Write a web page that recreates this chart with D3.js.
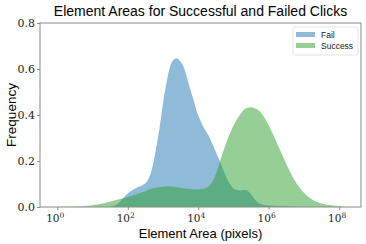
<!DOCTYPE html>
<html>
<head>
<meta charset="utf-8">
<script src="https://cdn.jsdelivr.net/npm/d3@7"></script>
<style>
  body { margin: 0; background: #fff; }
  svg { display: block; }
</style>
</head>
<body>
<svg id="chart" width="366" height="244"></svg>
<script>
// values: exponent of element area (10^e) and frequency
var failExp = [1.5, 1.7, 1.85, 2.05, 2.3, 2.45, 2.58, 2.68, 2.8, 2.9, 3.0, 3.1, 3.2, 3.3, 3.39, 3.48, 3.57, 3.67, 3.76, 3.86, 3.95, 4.05, 4.14, 4.24, 4.33, 4.43, 4.52, 4.62, 4.71, 4.81, 4.9, 4.99, 5.1, 5.18, 5.33, 5.47, 5.56, 5.66, 5.84, 6.1, 6.5, 6.9];
var failFreq = [0.0, 0.012, 0.035, 0.065, 0.087, 0.098, 0.12, 0.16, 0.25, 0.34, 0.45, 0.54, 0.61, 0.64, 0.647, 0.636, 0.615, 0.57, 0.52, 0.47, 0.42, 0.38, 0.35, 0.325, 0.30, 0.265, 0.232, 0.198, 0.162, 0.126, 0.10, 0.082, 0.074, 0.072, 0.074, 0.061, 0.042, 0.024, 0.01, 0.005, 0.003, 0.0];

var successExp = [-0.05, 0.5, 0.93, 1.41, 1.89, 2.36, 2.65, 2.93, 3.2, 3.6, 3.9, 4.1, 4.33, 4.47, 4.62, 4.81, 4.99, 5.18, 5.37, 5.51, 5.62, 5.75, 5.94, 6.13, 6.32, 6.51, 6.70, 6.89, 7.17, 7.45, 7.83, 8.2];
var successFreq = [0.0, 0.002, 0.007, 0.02, 0.039, 0.061, 0.078, 0.087, 0.089, 0.08, 0.076, 0.078, 0.095, 0.13, 0.2, 0.285, 0.35, 0.40, 0.43, 0.434, 0.428, 0.415, 0.372, 0.314, 0.249, 0.184, 0.126, 0.082, 0.039, 0.017, 0.006, 0.0];

var seriesNames = ["Fail", "Success"];
var seriesColors = ["#1f77b4", "#2ca02c"];
var xTickExp = [0, 2, 4, 6, 8];
var yTicks = [0.0, 0.2, 0.4, 0.6, 0.8];

var svg = d3.select("#chart"),
    margin = {top: 23, right: 5, bottom: 37, left: 40},
    width = +svg.attr("width") - margin.left - margin.right,
    height = +svg.attr("height") - margin.top - margin.bottom,
    g = svg.append("g").attr("transform", "translate(" + margin.left + "," + margin.top + ")");

var x = d3.scaleLog()
    .domain([Math.pow(10, -0.49), Math.pow(10, 8.62)])
    .range([0, width]);

var y = d3.scaleLinear()
    .domain([0, 0.8])
    .range([height, 0]);

function toPoints(exps, freqs) {
  return exps.map(function(e, i) { return {area: Math.pow(10, e), freq: freqs[i]}; });
}
var series = [toPoints(failExp, failFreq), toPoints(successExp, successFreq)];

var area = d3.area()
    .curve(d3.curveMonotoneX)
    .x(function(d) { return x(d.area); })
    .y0(y(0))
    .y1(function(d) { return y(d.freq); });

// filled densities, fail first so success sits on top
g.selectAll("path.kde")
  .data(series)
  .enter().append("path")
    .attr("class", "kde")
    .attr("d", area)
    .attr("fill", function(d, i) { return seriesColors[i]; })
    .attr("fill-opacity", 0.5);

// frame
g.append("rect")
    .attr("width", width)
    .attr("height", height)
    .attr("fill", "none")
    .attr("stroke", "#8a8a8a")
    .attr("stroke-width", 1);

// x axis with 10^n labels
var xAxis = g.append("g")
    .attr("transform", "translate(0," + height + ")")
    .call(d3.axisBottom(x).tickValues(xTickExp.map(function(e) { return Math.pow(10, e); })).tickFormat("").tickSize(3));
xAxis.select(".domain").remove();
xAxis.selectAll("line").attr("stroke", "#8a8a8a");

var xLabels = g.append("g")
    .attr("font-family", "'DejaVu Serif', 'Liberation Serif', serif")
    .attr("fill", "#222")
  .selectAll("text")
  .data(xTickExp)
  .enter().append("text")
    .attr("x", function(e) { return x(Math.pow(10, e)) - 2; })
    .attr("y", height + 15)
    .attr("text-anchor", "middle")
    .attr("font-size", 10.5);
xLabels.append("tspan").text("10");
xLabels.append("tspan")
    .attr("dy", -4.5)
    .attr("font-size", 7.5)
    .text(function(e) { return e; });

// y axis
var yAxis = g.append("g")
    .call(d3.axisLeft(y).tickValues(yTicks).tickFormat(d3.format(".1f")).tickSize(3).tickPadding(2));
yAxis.select(".domain").remove();
yAxis.selectAll("line").attr("stroke", "#8a8a8a");
yAxis.selectAll("text")
    .attr("font-family", "'DejaVu Serif', 'Liberation Serif', serif")
    .attr("font-size", 11)
    .attr("fill", "#222");

// titles
svg.append("text")
    .attr("x", margin.left + width / 2)
    .attr("y", 16)
    .attr("text-anchor", "middle")
    .attr("font-family", "'Liberation Sans', Arial, sans-serif")
    .attr("font-size", 14)
    .text("Element Areas for Successful and Failed Clicks");

svg.append("text")
    .attr("x", margin.left + width / 2)
    .attr("y", 238)
    .attr("text-anchor", "middle")
    .attr("font-family", "'Liberation Sans', Arial, sans-serif")
    .attr("font-size", 13)
    .text("Element Area (pixels)");

svg.append("text")
    .attr("transform", "translate(16," + (margin.top + height / 2) + ") rotate(-90)")
    .attr("text-anchor", "middle")
    .attr("font-family", "'Liberation Sans', Arial, sans-serif")
    .attr("font-size", 13.5)
    .text("Frequency");

// legend
var legend = g.append("g").attr("transform", "translate(" + (width - 68) + ",4)");
legend.append("rect")
    .attr("width", 65)
    .attr("height", 28)
    .attr("rx", 2)
    .attr("fill", "#fff")
    .attr("fill-opacity", 0.8)
    .attr("stroke", "#ddd")
    .attr("stroke-width", 0.8);
var items = legend.selectAll("g.item")
  .data(seriesNames)
  .enter().append("g")
    .attr("class", "item")
    .attr("transform", function(d, i) { return "translate(3," + (5 + i * 11) + ")"; });
items.append("rect")
    .attr("width", 19)
    .attr("height", 5)
    .attr("fill", function(d, i) { return seriesColors[i]; })
    .attr("fill-opacity", 0.5);
items.append("text")
    .attr("x", 25)
    .attr("y", 5.5)
    .attr("font-family", "'Liberation Sans', Arial, sans-serif")
    .attr("font-size", 8.5)
    .attr("fill", "#222")
    .text(function(d) { return d; });
</script>
</body>
</html>
